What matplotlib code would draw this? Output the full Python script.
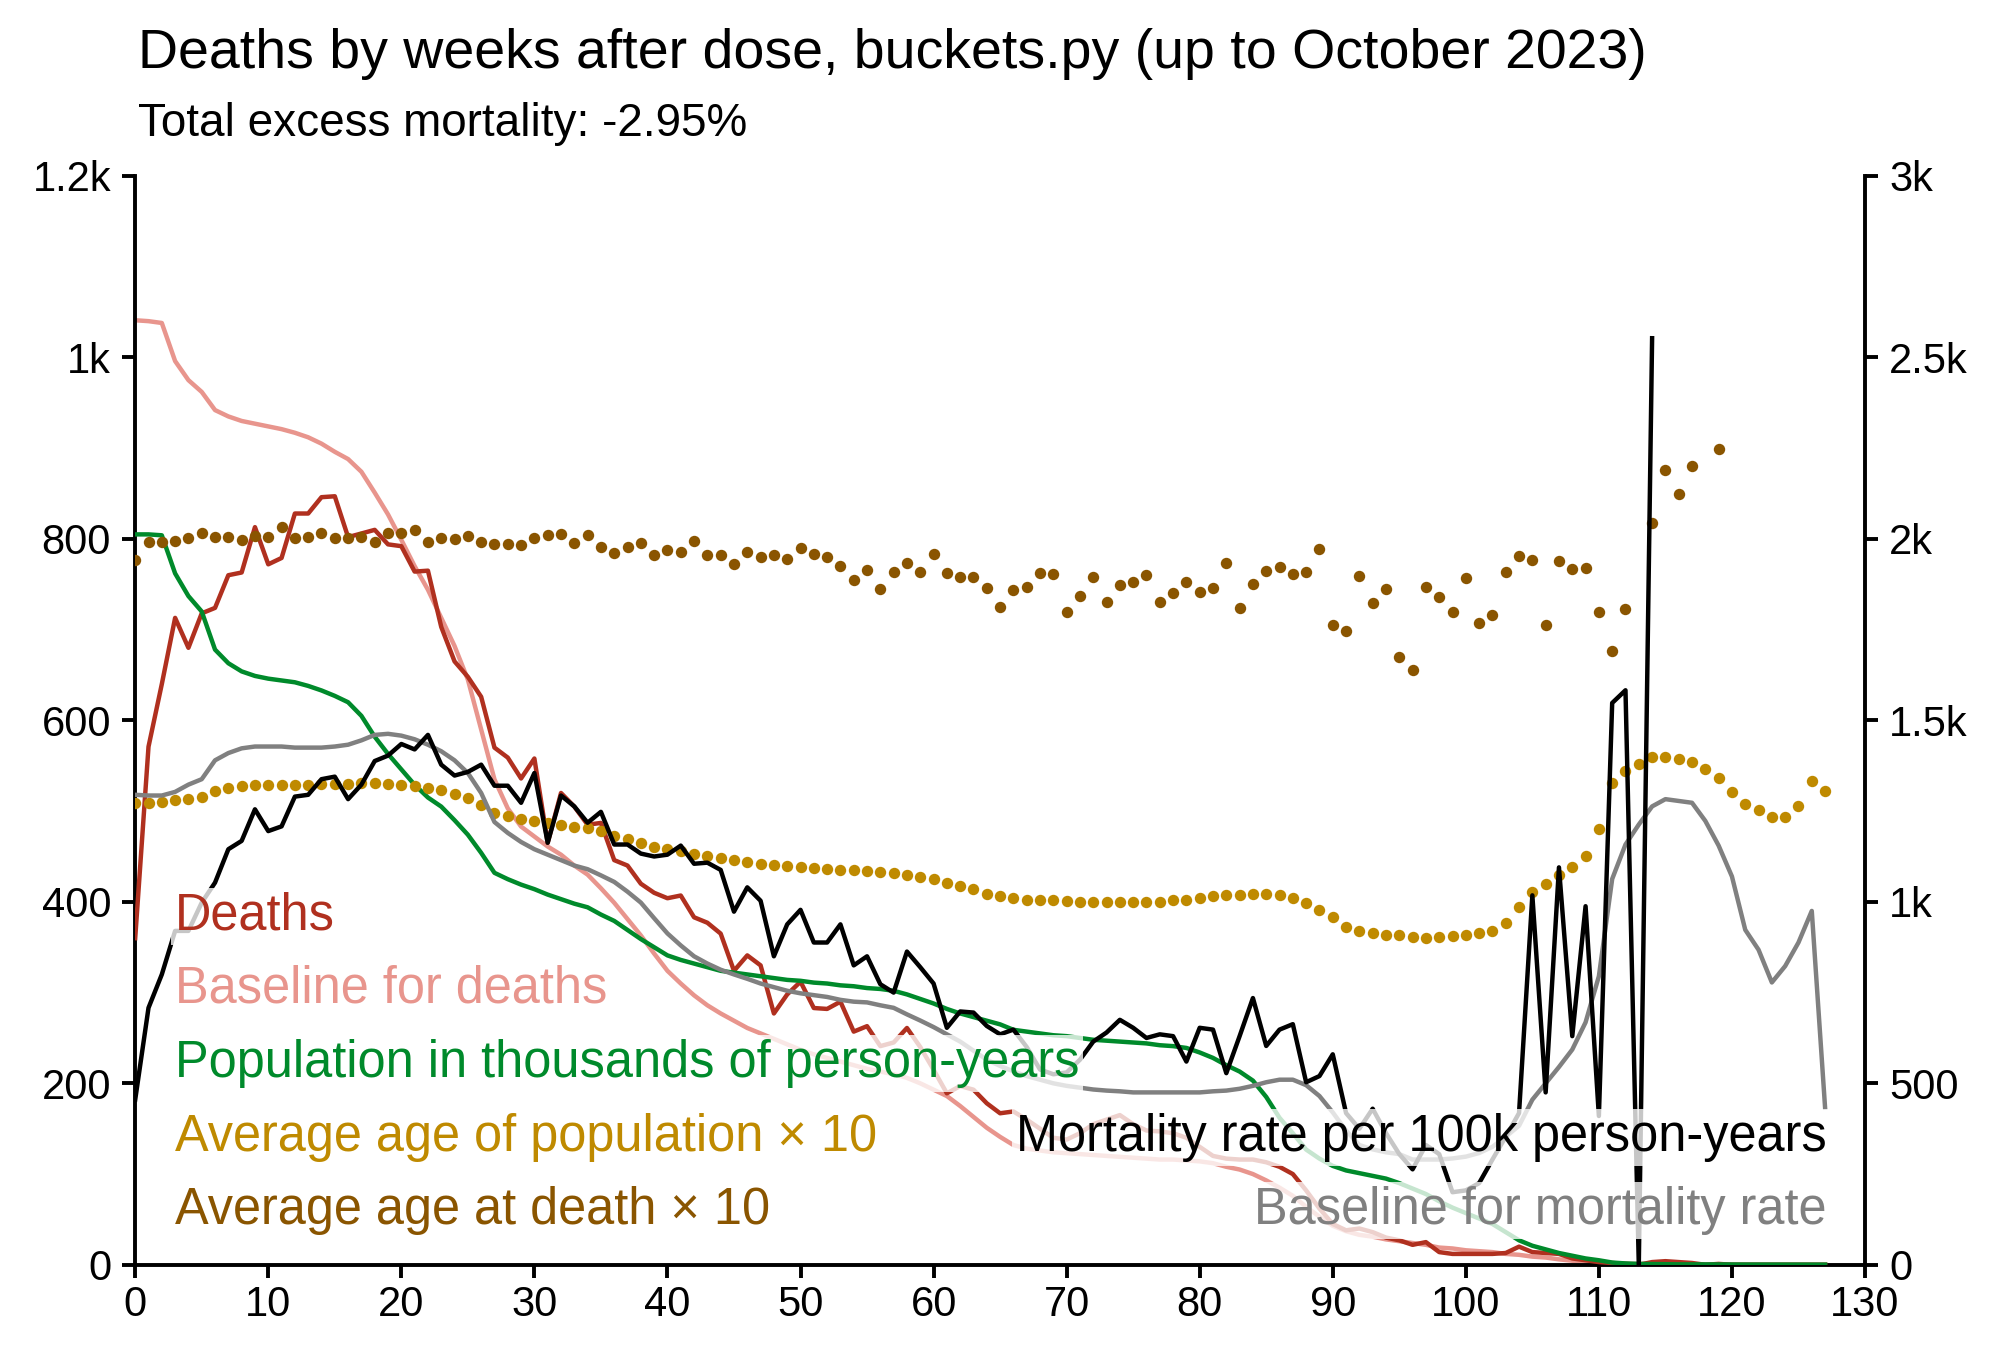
import numpy as np
import matplotlib
matplotlib.use("Agg")
import matplotlib.pyplot as plt

plt.rcParams['font.family'] = ['Liberation Sans', 'DejaVu Sans']

nan = np.nan
weeks = list(range(128))

deaths = [360, 571, 640, 713, 680, 718, 724, 760, 763, 813, 772, 779, 828, 828, 846, 847,
          802, 806, 810, 794, 792, 764, 765, 703, 665, 648, 626, 570, 559, 536, 558, 465,
          520, 505, 485, 487, 446, 440, 420, 410, 404, 407, 383, 377, 365, 324, 341, 330,
          277, 298, 312, 283, 282, 290, 257, 263, 241, 245, 261, 240, 215, 189, 197, 193,
          178, 167, 169, 160, 150, 140, 138, 145, 155, 160, 165, 155, 148, 147, 145, 140,
          130, 120, 117, 116, 116, 113, 108, 100, 82, 62, 45, 38, 40, 36, 30, 27,
          22, 25, 14, 12, 12, 12, 12, 13, 20, 14, 13, 12, 7, 5, 3, 2,
          1, 0, 3, 4, 3, 2, 0, 1, 0, 0, 0, 0, 0, 0, 0, 0]

baseline_deaths = [1041, 1040, 1038, 996, 975, 962, 942, 935, 930, 927, 924, 921, 917, 912, 905, 896,
                   888, 874, 851, 827, 799, 770, 744, 713, 682, 645, 590, 535, 503, 483, 472, 461,
                   452, 440, 430, 415, 399, 381, 363, 343, 324, 310, 297, 286, 277, 269, 261, 255,
                   249, 243, 237, 232, 228, 224, 220, 216, 213, 210, 206, 200, 193, 186, 175, 163,
                   151, 141, 132, 128, 126, 124, 123, 122, 121, 120, 119, 118, 117, 116, 116, 115,
                   114, 112, 108, 105, 100, 93, 85, 76, 64, 53, 43, 37, 33, 31, 28, 26,
                   24, 22, 19, 18, 16, 15, 14, 12, 11, 9, 8, 6, 4.5, 3.5, 2.5, 1.7,
                   1.2, 1.0, 0.8, 0.6, 0.5, 0.5, 0.4, 0.4, 0.3, 0.3, 0.3, 0.2, 0.2, 0.2, 0.2, 0.2]

population = [805, 805, 804, 762, 737, 720, 678, 663, 654, 649, 646, 644, 642, 638, 633, 627,
              620, 605, 582, 563, 546, 529, 515, 505, 490, 474, 454, 432, 425, 419, 414, 408,
              403, 398, 394, 386, 379, 369, 359, 350, 341, 336, 332, 328, 324, 322, 320, 318,
              316, 314, 313, 311, 310, 308, 307, 305, 304, 302, 298, 293, 288, 282, 277, 273,
              269, 265, 259, 257, 255, 253, 252, 250, 248, 247, 246, 245, 244, 242, 241, 239,
              234, 228, 220, 213, 203, 185, 162, 145, 127, 117, 109, 104, 101, 98, 95, 90,
              84, 78, 70, 63, 57, 51, 45, 36, 27, 21, 17, 13, 10, 7, 5, 2.5,
              1.5, 1.0, 0.8, 0.6, 0.5, 0.5, 0.4, 0.4, 0.3, 0.3, 0.3, 0.2, 0.2, 0.2, 0.2, 0.2]

age_population_x10 = [509, 509, 510, 512, 513, 516, 522, 525, 528, 529, 529, 529, 529, 529, 530, 530,
                      530, 531, 531, 530, 529, 528, 526, 523, 519, 515, 507, 498, 495, 491, 489, 487,
                      485, 483, 481, 478, 473, 469, 465, 460, 458, 456, 453, 450, 448, 446, 444, 442,
                      441, 439, 438, 437, 436, 435, 435, 434, 433, 432, 430, 427, 425, 421, 417, 414,
                      409, 406, 404, 402, 402, 402, 401, 400, 400, 400, 400, 400, 400, 400, 402, 402,
                      404, 407, 408, 408, 409, 409, 408, 404, 399, 391, 383, 372, 368, 366, 364, 363,
                      361, 360, 361, 362, 364, 366, 368, 377, 394, 411, 420, 430, 438, 451, 480, 531,
                      544, 552, 560, 560, 557, 554, 546, 536, 521, 508, 501, 494, 493, 506, 533, 522]

age_death_x10 = [777, 797, 797, 798, 801, 807, 802, 802, 799, 803, 802, 813, 801, 802, 806, 801,
                 801, 802, 797, 806, 807, 810, 797, 801, 800, 803, 797, 794, 794, 793, 801, 804,
                 805, 796, 804, 791, 785, 791, 795, 782, 788, 786, 798, 782, 782, 772, 786, 780,
                 782, 778, 790, 783, 780, 770, 755, 766, 745, 764, 774, 764, 783, 762, 758, 758,
                 746, 725, 744, 747, 762, 761, 720, 737, 758, 731, 749, 753, 760, 730, 740, 752,
                 742, 746, 774, 724, 750, 765, 769, 761, 764, 789, 705, 698, 759, 729, 745, 670,
                 656, 747, 736, 719, 757, 707, 716, 764, 781, 777, 705, 776, 767, 768, 720, 677,
                 723, nan, 817, 876, 850, 880, nan, 899, nan, nan, nan, nan, nan, nan, nan, nan]

mortality_rate = [455, 708, 800, 920, 920, 998, 1053, 1145, 1168, 1255, 1195, 1208, 1290, 1295, 1338, 1345,
                  1283, 1323, 1388, 1403, 1435, 1420, 1460, 1378, 1348, 1358, 1378, 1320, 1320, 1273, 1355, 1163,
                  1293, 1263, 1218, 1248, 1158, 1158, 1133, 1125, 1130, 1155, 1105, 1108, 1088, 973, 1040, 1003,
                  850, 938, 978, 888, 888, 938, 825, 850, 773, 750, 863, 820, 775, 653, 698, 695,
                  658, 635, 648, 600, 538, 525, 530, 565, 615, 640, 675, 653, 625, 635, 630, 560,
                  653, 648, 528, 630, 735, 603, 648, 663, 503, 520, 580, 418, 375, 430, 363, 305,
                  263, 330, 305, 200, 205, 225, 290, 353, 418, 1018, 475, 1095, 630, 988, 410, 1548,
                  1583, 0, 2553, nan, nan, nan, nan, nan, nan, nan, nan, nan, nan, nan, nan, nan]

baseline_mortality = [1295, 1293, 1293, 1303, 1323, 1338, 1390, 1410, 1423, 1428, 1428, 1428, 1425, 1425, 1425, 1428,
                      1433, 1445, 1460, 1463, 1458, 1448, 1433, 1415, 1390, 1355, 1300, 1220, 1190, 1165, 1145, 1130,
                      1115, 1100, 1090, 1073, 1055, 1028, 998, 955, 913, 880, 850, 830, 813, 800, 788, 775,
                      765, 755, 748, 743, 738, 730, 725, 723, 715, 708, 690, 673, 655, 635, 615, 590,
                      565, 548, 533, 520, 510, 500, 493, 488, 483, 480, 478, 475, 475, 475, 475, 475,
                      475, 478, 480, 485, 493, 503, 510, 510, 495, 465, 420, 370, 330, 318, 310, 305,
                      290, 290, 290, 293, 298, 308, 325, 353, 383, 455, 500, 545, 593, 668, 795, 1063,
                      1158, 1213, 1263, 1283, 1278, 1273, 1223, 1155, 1070, 923, 868, 778, 823, 888, 975, 433]

xticks = list(range(0, 131, 10))
left_ticks = [0, 200, 400, 600, 800, 1000, 1200]
left_labels = ["0", "200", "400", "600", "800", "1k", "1.2k"]
right_ticks = [0, 500, 1000, 1500, 2000, 2500, 3000]
right_labels = ["0", "500", "1k", "1.5k", "2k", "2.5k", "3k"]

title = "Deaths by weeks after dose, buckets.py (up to October 2023)"
subtitle = "Total excess mortality: -2.95%"

c_deaths = "#b0301f"
c_base_deaths = "#e8958d"
c_pop = "#008a2b"
c_age_pop = "#bf8a00"
c_age_death = "#8a5500"
c_mort = "#000000"
c_base_mort = "#808080"

fig = plt.figure(figsize=(10, 6.8), dpi=200)
ax = fig.add_axes([0.0676, 0.070, 0.8649, 0.8006])
ax2 = ax.twinx()

lw = 1.6
ax.plot(weeks, deaths, color=c_deaths, lw=lw, zorder=3)
ax.plot(weeks, baseline_deaths, color=c_base_deaths, lw=lw, zorder=2)
ax.plot(weeks, population, color=c_pop, lw=lw, zorder=3)
ax.plot(weeks, age_population_x10, 'o', color=c_age_pop, ms=4.1, mew=0, zorder=4)
ax.plot(weeks, age_death_x10, 'o', color=c_age_death, ms=4.1, mew=0, zorder=4)
ax2.plot(weeks, baseline_mortality, color=c_base_mort, lw=lw, zorder=2)
ax2.plot(weeks, mortality_rate, color=c_mort, lw=lw, zorder=3)

ax.set_xlim(0, 130)
ax.set_ylim(0, 1200)
ax2.set_ylim(0, 3000)
ax.set_xticks(xticks)
ax.set_yticks(left_ticks)
ax.set_yticklabels(left_labels)
ax2.set_yticks(right_ticks)
ax2.set_yticklabels(right_labels)

for a in (ax, ax2):
    a.spines['top'].set_visible(False)
    for s in a.spines.values():
        s.set_linewidth(1.4)
    a.tick_params(direction='out', length=4.7, width=1.4, labelsize=15, pad=4)
ax.tick_params(axis='x', pad=2.5)
ax.spines['right'].set_visible(False)
ax2.spines['left'].set_visible(False)
ax2.spines['bottom'].set_visible(False)

fig.text(0.069, 0.960, title, fontsize=20, ha='left', va='center')
fig.text(0.069, 0.909, subtitle, fontsize=16.5, ha='left', va='center')

box = dict(facecolor='white', alpha=0.78, edgecolor='none', pad=1.5)
left_items = [("Deaths", c_deaths), ("Baseline for deaths", c_base_deaths),
              ("Population in thousands of person-years", c_pop),
              ("Average age of population \u00d7 10", c_age_pop),
              ("Average age at death \u00d7 10", c_age_death)]
ys = [0.320, 0.253, 0.185, 0.117, 0.050]
for (t, c), y in zip(left_items, ys):
    ax2.text(0.0229, y, t, color=c, fontsize=18.2, ha='left', va='center',
             transform=ax.transAxes, bbox=box, zorder=10)
right_items = [("Mortality rate per 100k person-years", c_mort),
               ("Baseline for mortality rate", c_base_mort)]
for (t, c), y in zip(right_items, [0.117, 0.050]):
    ax2.text(0.978, y, t, color=c, fontsize=18.2, ha='right', va='center',
             transform=ax.transAxes, bbox=box, zorder=10)

fig.savefig("out.png", dpi=200)
